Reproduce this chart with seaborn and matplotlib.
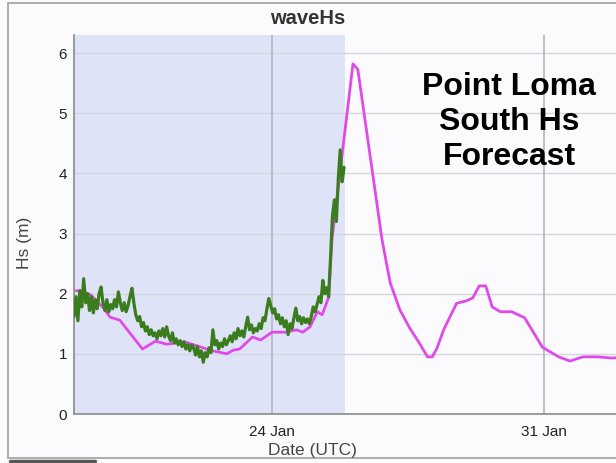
import numpy as np
import pandas as pd
import matplotlib
matplotlib.use("Agg")
import matplotlib.pyplot as plt
from matplotlib.lines import Line2D
import seaborn as sns

# ---- data -------------------------------------------------------------
# Observed significant wave height (m), buoy record
obs_start = "2024-01-18 21:45"
obs_end = "2024-01-25 20:30"
obs_hs = [
    1.62, 1.95, 1.55, 2.05, 1.78, 2.25, 1.85,
    2.00, 1.72, 1.95, 1.68, 1.90, 1.75, 2.00, 2.11,
    1.85, 1.72, 1.90, 1.70, 1.82,
    1.75, 1.90, 1.78, 2.03, 1.85,
    1.72, 1.85, 1.70, 1.80,
    1.95, 2.09, 1.85,
    1.65, 1.55, 1.62, 1.45, 1.52,
    1.38, 1.45, 1.32, 1.40, 1.30,
    1.35, 1.25, 1.38, 1.30, 1.42, 1.28,
    1.45, 1.30, 1.22, 1.35, 1.18, 1.25,
    1.15, 1.22, 1.12, 1.20, 1.08, 1.15, 1.05, 1.15,
    1.10, 0.98, 1.12, 0.95, 1.05, 0.86, 1.02, 0.95,
    1.10, 1.02, 1.40, 1.15, 1.22,
    1.08, 1.18, 1.12, 1.25, 1.15, 1.22, 1.30,
    1.20, 1.35, 1.25, 1.42, 1.30, 1.38, 1.28, 1.45,
    1.61, 1.40, 1.48, 1.35, 1.42,
    1.38, 1.50, 1.42, 1.60, 1.55, 1.75, 1.92,
    1.80, 1.68, 1.75, 1.58, 1.65, 1.50,
    1.60, 1.45, 1.55, 1.32, 1.50, 1.42,
    1.60, 1.76, 1.55, 1.62, 1.50,
    1.60, 1.52, 1.58, 1.50, 1.62,
    1.78, 1.70, 1.82, 1.95, 1.85,
    2.22, 2.00, 2.10, 1.95,
    2.60, 3.30, 3.56, 3.20,
    3.90, 4.39, 3.86, 4.10,
]

# Model forecast of significant wave height (m)
fc_time = [
    "01-18 23:00", "01-19 03:00", "01-19 08:00", "01-19 16:00", "01-19 20:00",
    "01-20 02:00", "01-20 16:00", "01-21 00:00", "01-21 07:00", "01-21 18:00",
    "01-22 02:00", "01-22 10:00", "01-22 20:00", "01-23 00:00", "01-23 04:00",
    "01-23 12:00", "01-23 17:00", "01-24 00:00", "01-24 09:00", "01-24 15:00",
    "01-24 19:00", "01-24 23:30", "01-25 04:00", "01-25 07:00", "01-25 11:00",
    "01-25 13:00", "01-26 02:00", "01-26 05:00", "01-26 20:00", "01-27 01:00",
    "01-27 07:00", "01-27 13:00", "01-27 19:00", "01-28 00:00", "01-28 03:00",
    "01-28 06:00", "01-28 10:00", "01-28 18:00", "01-29 00:00", "01-29 04:00",
    "01-29 08:00", "01-29 12:00", "01-29 16:00", "01-29 21:00", "01-30 04:00",
    "01-30 12:00", "01-30 23:00", "01-31 09:00", "01-31 16:00", "02-01 00:00",
    "02-01 09:00", "02-01 18:00", "02-02 02:00",
]
fc_hs = [
    2.05, 2.04, 1.98, 1.76, 1.61,
    1.56, 1.08, 1.21, 1.16, 1.20,
    1.13, 1.06, 1.00, 1.06, 1.08,
    1.28, 1.23, 1.36, 1.36, 1.40,
    1.36, 1.45, 1.70, 1.65, 1.94,
    2.89, 5.82, 5.73, 2.89, 2.18,
    1.73, 1.43, 1.18, 0.95, 0.95,
    1.10, 1.40, 1.84, 1.88, 1.93,
    2.13, 2.13, 1.78, 1.70, 1.70,
    1.60, 1.11, 0.95, 0.88, 0.95,
    0.95, 0.93, 0.95,
]

tick_dates = ["2024-01-24", "2024-01-31"]
tick_labels = ["24 Jan", "31 Jan"]
obs_window_end = "2024-01-25 21:10"

# ---- frames -----------------------------------------------------------
obs = pd.DataFrame({
    "time": pd.date_range(obs_start, obs_end, periods=len(obs_hs)),
    "hs": obs_hs,
})
fc = pd.DataFrame({
    "time": pd.to_datetime(["2024-" + t for t in fc_time]),
    "hs": fc_hs,
})

# ---- styling ----------------------------------------------------------
sns.set_theme(style="white")
plt.rcParams["font.family"] = ["Liberation Sans", "DejaVu Sans"]

W, H = 616, 463
fig = plt.figure(figsize=(W / 100, H / 100), dpi=100)
bg = "#fbfbfd"
fig.patch.set_facecolor(bg)

ax = fig.add_axes([74 / W, (H - 414) / H, (W - 74) / W, (414 - 35) / H])
ax.set_facecolor(bg)

x0 = pd.Timestamp("2024-01-18 21:43")
x1 = pd.Timestamp("2024-02-01 20:27")
ax.set_xlim(x0, x1)
ax.set_ylim(0, 6.30)

# shaded observation window
ax.axvspan(x0, pd.Timestamp(obs_window_end), color="#dfe3f8", lw=0, zorder=0)

# grid
for yv in range(0, 7):
    ax.axhline(yv, color="#d4d6de", lw=1.0, zorder=1)
for d in tick_dates:
    ax.axvline(pd.Timestamp(d), color="#b3b5bd", lw=1.2, zorder=1)

sns.lineplot(data=fc, x="time", y="hs", ax=ax, color="#e04ae8", lw=2.0,
             zorder=3, estimator=None)
sns.lineplot(data=obs, x="time", y="hs", ax=ax, color="#3b7d1e", lw=2.3,
             zorder=4, estimator=None)

ax.set_xticks([pd.Timestamp(d) for d in tick_dates])
ax.set_xticklabels(tick_labels)
ax.set_yticks(range(0, 7))
ax.tick_params(axis="both", length=0, labelsize=11, colors="#222222")
ax.tick_params(axis="x", pad=8)
ax.tick_params(axis="y", pad=5)
ax.set_xlabel("")
ax.set_ylabel("")

for s in ["top", "right"]:
    ax.spines[s].set_visible(False)
for s in ["left", "bottom"]:
    ax.spines[s].set_color("#8a8a8a")
    ax.spines[s].set_linewidth(1.2)

# titles and labels
fig.text(308 / W, 1 - 18 / H, "waveHs", ha="center", va="center",
         fontsize=14.5, fontweight="bold", color="#333333")
fig.text(312 / W, 1 - 450 / H, "Date (UTC)", ha="center", va="center",
         fontsize=12.5, color="#444444")
fig.text(25 / W, 1 - 243 / H, "Hs (m)", ha="center", va="center",
         rotation=90, fontsize=12.5, color="#444444")

fig.text(509 / W, 1 - 122 / H, "Point Loma\nSouth Hs\nForecast",
         ha="center", va="center", fontsize=23, fontweight="bold",
         color="black", linespacing=1.2)

# outer panel border
border = dict(transform=fig.transFigure, color="#a0a0a0", lw=1.2)
fig.add_artist(Line2D([8 / W, 8 / W], [1 - 2.5 / H, 1 - 458 / H], **border))
fig.add_artist(Line2D([8 / W, 1], [1 - 2.5 / H, 1 - 2.5 / H], **border))
fig.add_artist(Line2D([8 / W, 1], [1 - 458 / H, 1 - 458 / H], **border))
fig.add_artist(Line2D([10 / W, 95 / W], [1 - 460.5 / H, 1 - 460.5 / H],
                      transform=fig.transFigure, color="#555555", lw=2.5))

fig.savefig("out.png", dpi=100, facecolor=bg)
